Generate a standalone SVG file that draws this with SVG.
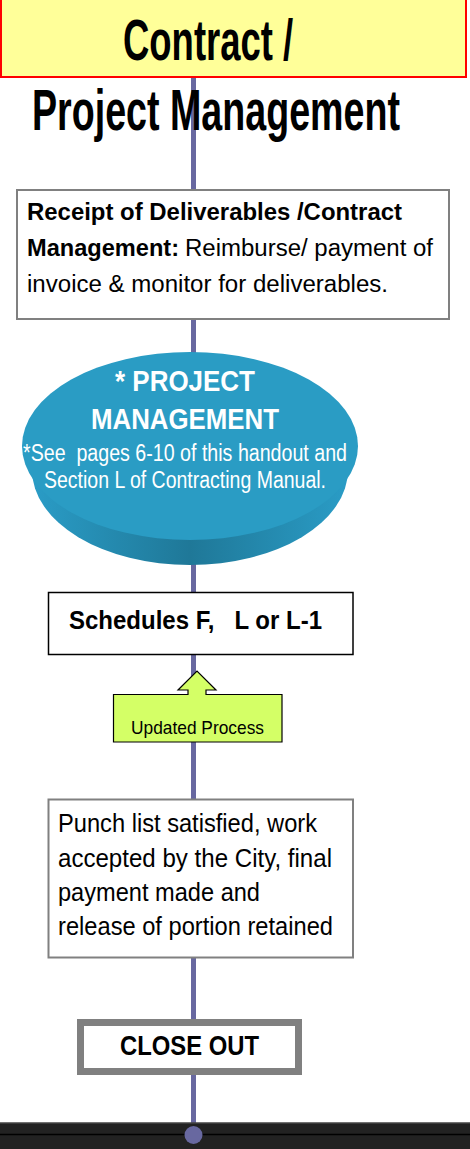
<svg xmlns="http://www.w3.org/2000/svg" width="470" height="1149" viewBox="0 0 470 1149">
<defs>
<style>
.t{font-family:"Liberation Sans",Arial,sans-serif;fill:#000;white-space:pre}
.b{font-weight:bold}
.w{fill:#fff}
.box{fill:#fff;stroke:#808080;stroke-width:2}
</style>
<linearGradient id="side" x1="0" y1="0" x2="1" y2="0">
<stop offset="0" stop-color="#2a9cc6"/>
<stop offset="0.5" stop-color="#1f7898"/>
<stop offset="1" stop-color="#2a9cc6"/>
</linearGradient>
</defs>
<rect width="470" height="1149" fill="#fff"/>
<g id="connectors">
<line x1="193.5" y1="77" x2="193.5" y2="1134" stroke="#6868a0" stroke-width="5"/>
</g>
<g id="bottom-bar">
<rect x="0" y="1122.5" width="470" height="26.5" fill="#222"/>
<line x1="0" y1="1123" x2="470" y2="1123" stroke="#555" stroke-width="1"/>
<line x1="0" y1="1134.5" x2="470" y2="1134.5" stroke="#000" stroke-width="1.5"/>
<circle cx="193.5" cy="1135" r="9" fill="#6868a0"/>
</g>
<g id="title">
<rect x="1" y="-5" width="465" height="82" fill="#ffff99" stroke="#ff0000" stroke-width="2"/>
<text class="t b" transform="translate(123,60) scale(0.628,1)" x="0" y="0" font-size="58" textLength="271" lengthAdjust="spacingAndGlyphs">Contract /</text>
<text class="t b" transform="translate(32,130) scale(0.649,1)" x="0" y="0" font-size="58" textLength="567" lengthAdjust="spacingAndGlyphs">Project Management</text>
</g>
<g id="receipt">
<rect class="box" x="17" y="190" width="432" height="129"/>
<text class="t b" x="27" y="220" font-size="23" textLength="375" lengthAdjust="spacingAndGlyphs">Receipt of Deliverables /Contract</text>
<text class="t b" x="27" y="256" font-size="23" textLength="152" lengthAdjust="spacingAndGlyphs">Management:</text>
<text class="t" x="185" y="256" font-size="23" textLength="248" lengthAdjust="spacingAndGlyphs">Reimburse/ payment of</text>
<text class="t" x="27" y="292" font-size="23" textLength="361" lengthAdjust="spacingAndGlyphs">invoice &amp; monitor for deliverables.</text>
</g>
<g id="project-management">
<ellipse cx="190" cy="470" rx="158" ry="95" fill="url(#side)"/>
<ellipse cx="190" cy="446" rx="168" ry="94" fill="#2a9cc4"/>
<text class="t b w" x="185" y="391" font-size="29" text-anchor="middle" textLength="140" lengthAdjust="spacingAndGlyphs">* PROJECT</text>
<text class="t b w" x="185" y="429" font-size="29" text-anchor="middle" textLength="188" lengthAdjust="spacingAndGlyphs">MANAGEMENT</text>
<text class="t w" x="185" y="461" font-size="23" text-anchor="middle" textLength="324" lengthAdjust="spacingAndGlyphs">*See  pages 6-10 of this handout and</text>
<text class="t w" x="185" y="488" font-size="23" text-anchor="middle" textLength="282" lengthAdjust="spacingAndGlyphs">Section L of Contracting Manual.</text>
</g>
<g id="schedules">
<rect x="48.5" y="592.5" width="304.5" height="62" fill="#fff" stroke="#000" stroke-width="1.5"/>
<text class="t b" x="69" y="629" font-size="26" textLength="253" lengthAdjust="spacingAndGlyphs">Schedules F,   L or L-1</text>
</g>
<g id="updated-process">
<path d="M113.5,694.5 H188 V690 H178 L197,671 L216,690 H206 V694.5 H282 V742 H113.5 Z" fill="#d4ff66" stroke="#000" stroke-width="1.2"/>
<text class="t" x="131" y="734" font-size="19" textLength="133" lengthAdjust="spacingAndGlyphs">Updated Process</text>
</g>
<g id="punch-list">
<rect class="box" x="48.5" y="799.5" width="304.5" height="158"/>
<text class="t" x="58" y="832" font-size="25" textLength="259" lengthAdjust="spacingAndGlyphs">Punch list satisfied, work</text>
<text class="t" x="58" y="867" font-size="25" textLength="274" lengthAdjust="spacingAndGlyphs">accepted by the City, final</text>
<text class="t" x="58" y="901" font-size="25" textLength="202" lengthAdjust="spacingAndGlyphs">payment made and</text>
<text class="t" x="58" y="935" font-size="25" textLength="275" lengthAdjust="spacingAndGlyphs">release of portion retained</text>
</g>
<g id="close-out">
<rect x="80.5" y="1022.5" width="218" height="49" fill="#fff" stroke="#808080" stroke-width="7"/>
<text class="t b" x="120" y="1055" font-size="27" textLength="139" lengthAdjust="spacingAndGlyphs">CLOSE OUT</text>
</g>
</svg>
